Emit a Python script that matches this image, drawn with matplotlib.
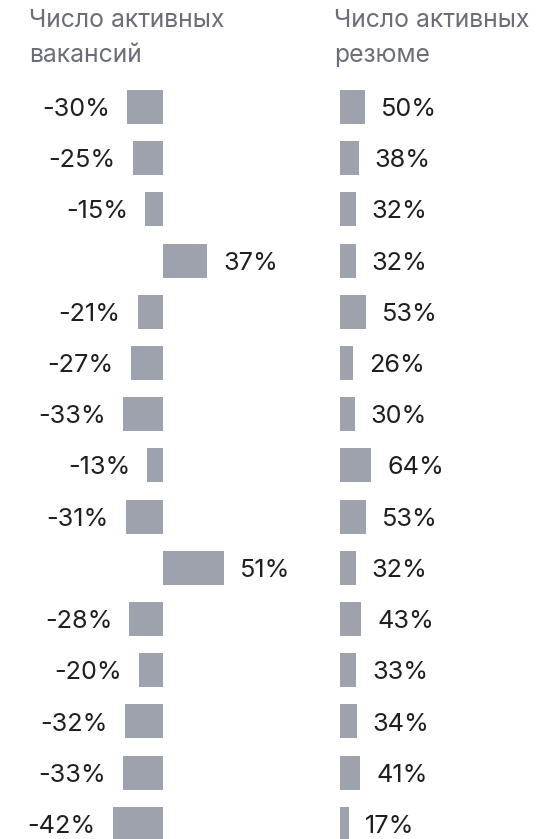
import matplotlib
matplotlib.use("Agg")
import matplotlib.pyplot as plt

vacancies = [-30, -25, -15, 37, -21, -27, -33, -13, -31, 51, -28, -20, -32, -33, -42]
resumes = [50, 38, 32, 32, 53, 26, 30, 64, 53, 32, 43, 33, 34, 41, 17]
labels_vac = ["-30%", "-25%", "-15%", "37%", "-21%", "-27%", "-33%", "-13%", "-31%", "51%",
              "-28%", "-20%", "-32%", "-33%", "-42%"]
labels_res = ["50%", "38%", "32%", "32%", "53%", "26%", "30%", "64%", "53%", "32%",
              "43%", "33%", "34%", "41%", "17%"]
header_left = ["Число активных", "вакансий"]
header_right = ["Число активных", "резюме"]

W, H = 546, 839
BAR = "#9ea2ad"
TXT = "#1f1f1f"
HDR = "#6b6e78"
FONT = "Inter"
FS = 18.2
FSH = 17.8

fig = plt.figure(figsize=(W / 100, H / 100), dpi=100)

pitch = 51.2
c0 = 106.9
ytop = -c0 / pitch
ybot = (H - c0) / pitch
rows = list(range(len(vacancies)))

# left panel
axL = fig.add_axes([0, 0, 273 / W, 1])
zL, sL = 163.0, 1.2
axL.set_xlim(-zL / sL, (273 - zL) / sL)
axL.set_ylim(ybot, ytop)
axL.barh(rows, vacancies, height=34 / pitch, color=BAR, linewidth=0)
for i, (v, lab) in enumerate(zip(vacancies, labels_vac)):
    off = 16 if v > 0 else -17
    axL.annotate(lab, (v, i), xytext=(off, -9.2), textcoords="offset pixels",
                 ha="left" if v > 0 else "right", va="baseline",
                 fontsize=FS, family=FONT, color=TXT)
axL.axis("off")

# right panel
axR = fig.add_axes([273 / W, 0, 273 / W, 1])
zR, sR = 340.3 - 273, 0.485
axR.set_xlim(-zR / sR, (273 - zR) / sR)
axR.set_ylim(ybot, ytop)
axR.barh(rows, resumes, height=34 / pitch, color=BAR, linewidth=0)
for i, (v, lab) in enumerate(zip(resumes, labels_res)):
    axR.annotate(lab, (v, i), xytext=(16, -9.2), textcoords="offset pixels",
                 ha="left", va="baseline",
                 fontsize=FS, family=FONT, color=TXT)
axR.axis("off")

# headers
for k, line in enumerate(header_left):
    fig.text(29 / W, 1 - (27 + 35 * k) / H, line, ha="left", va="baseline",
             fontsize=FSH, family=FONT, color=HDR)
for k, line in enumerate(header_right):
    fig.text(334 / W, 1 - (27 + 35 * k) / H, line, ha="left", va="baseline",
             fontsize=FSH, family=FONT, color=HDR)

fig.savefig("out.png", dpi=100)
